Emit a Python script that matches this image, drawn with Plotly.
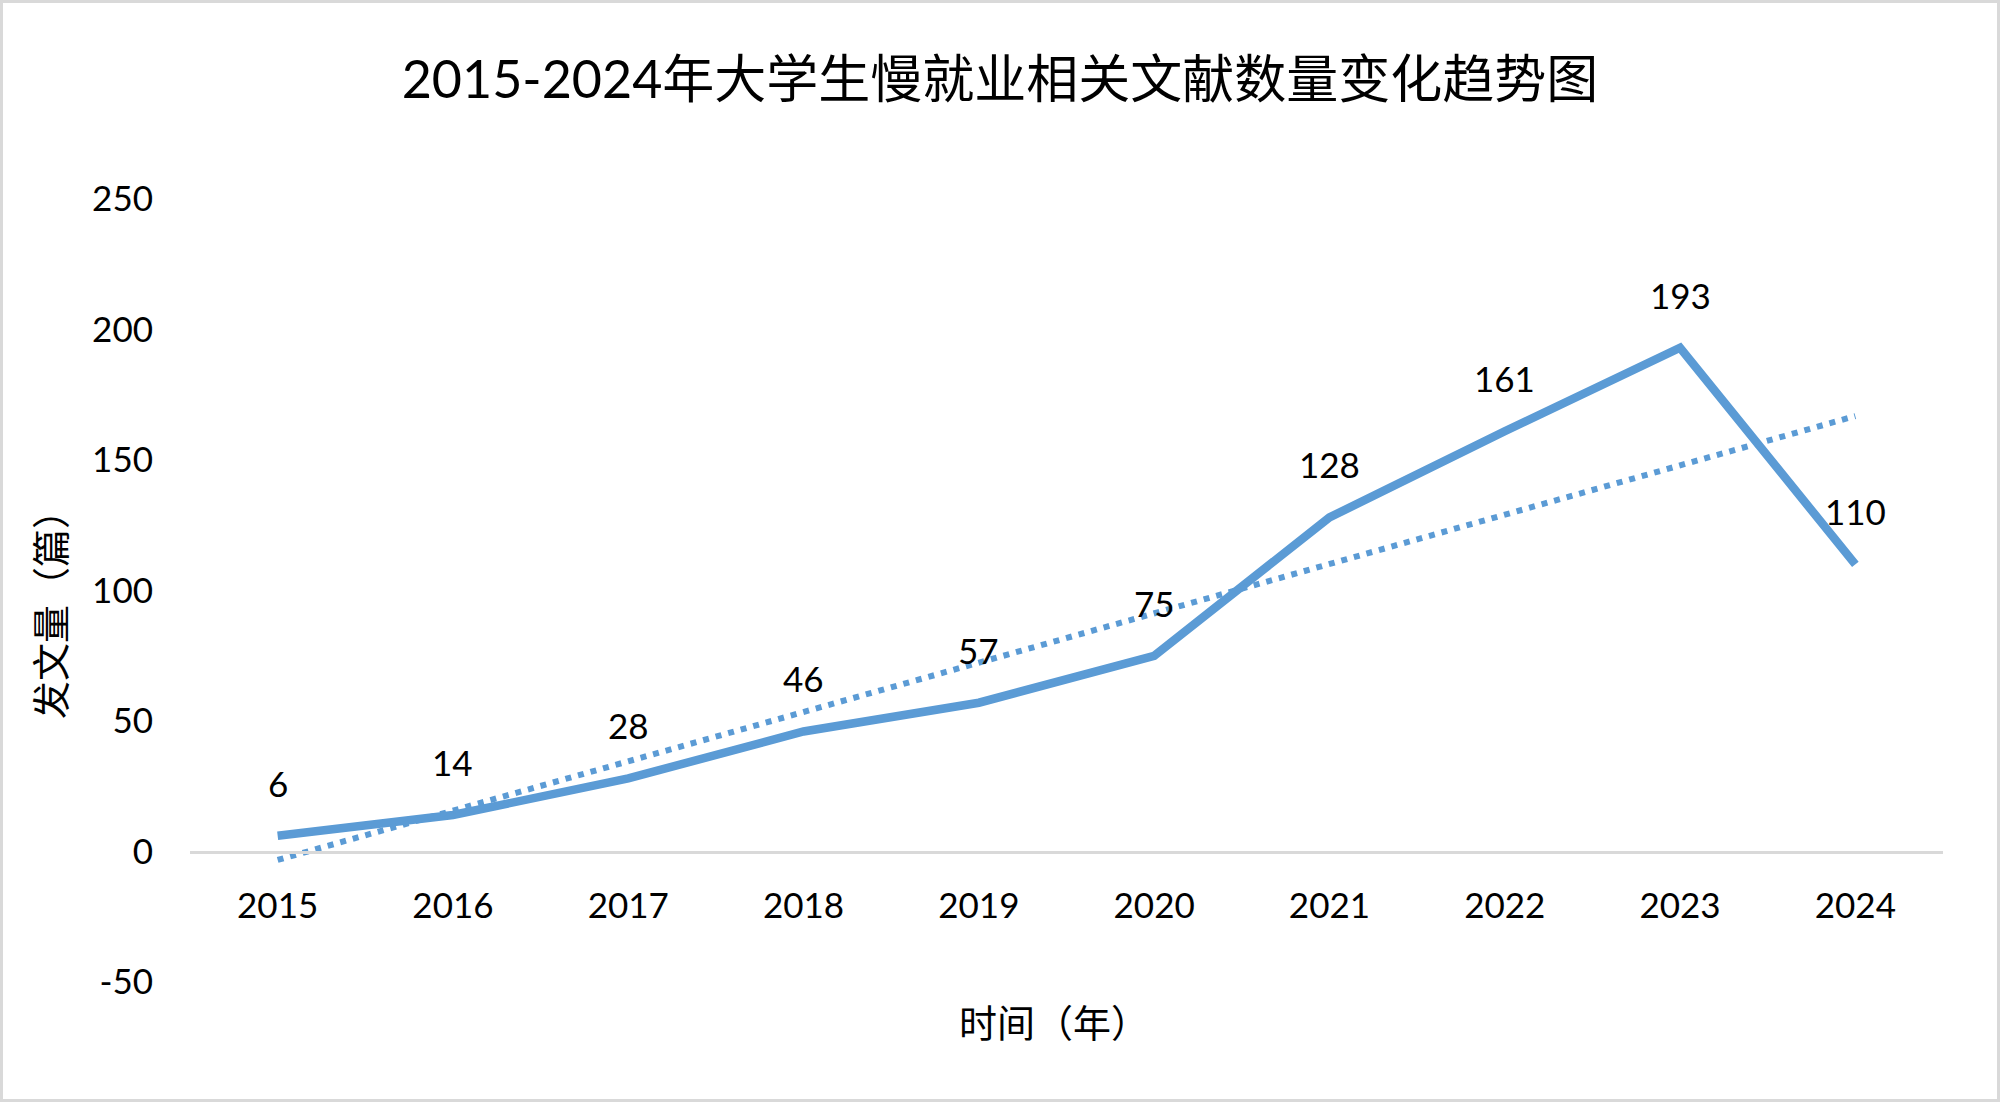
import numpy as np
import plotly.graph_objects as go

years = ["2015", "2016", "2017", "2018", "2019", "2020", "2021", "2022", "2023", "2024"]
counts = [6, 14, 28, 46, 57, 75, 128, 161, 193, 110]
y_ticks = [-50, 0, 50, 100, 150, 200, 250]

title_text = "2015-2024年大学生慢就业相关文献数量变化趋势图"
x_title = "时间（年）"
y_title = "发文量（篇）"

# Linear trendline (least squares over category index), as in Excel
idx = np.arange(len(years))
slope, intercept = np.polyfit(idx, counts, 1)
trend = slope * idx + intercept

W, H = 2000, 1102
ML, MR, MT, MB = 190, 57, 199, 120
PW, PH = W - ML - MR, H - MT - MB

FONT = "Lato, 'Noto Sans CJK SC', sans-serif"
CJK = "'Noto Sans CJK SC', sans-serif"
BLUE = "#5B9BD5"

fig = go.Figure()
fig.add_trace(go.Scatter(
    x=years, y=counts, mode="lines",
    line=dict(color=BLUE, width=8.5),
    showlegend=False, hoverinfo="skip",
))
fig.add_trace(go.Scatter(
    x=years, y=trend, mode="lines",
    line=dict(color=BLUE, width=6, dash="6px,7px"),
    showlegend=False, hoverinfo="skip",
))

annotations = []
for i, v in enumerate(counts):
    annotations.append(dict(
        x=i, y=v, xref="x", yref="y", text=str(v), showarrow=False,
        yshift=53, font=dict(family=FONT, size=35, color="#000000"),
        xanchor="center", yanchor="middle",
    ))

annotations.append(dict(
    x=(1054 - ML) / PW, y=1 - (1020 - MT) / PH, xref="paper", yref="paper",
    text=x_title, showarrow=False, xanchor="center", yanchor="middle",
    font=dict(family=CJK, size=38, color="#000000"),
))
annotations.append(dict(
    x=(48 - ML) / PW, y=1 - (605 - MT) / PH, xref="paper", yref="paper",
    text=y_title, showarrow=False, xanchor="center", yanchor="middle",
    textangle=-90, font=dict(family=CJK, size=38, color="#000000"),
))

fig.update_layout(
    width=W, height=H,
    margin=dict(l=ML, r=MR, t=MT, b=MB, pad=0),
    paper_bgcolor="white", plot_bgcolor="white",
    title=dict(
        text=title_text, x=0.5, xref="container", xanchor="center",
        y=1 - 80 / H, yref="container", yanchor="middle",
        font=dict(family=FONT, size=52, color="#000000"),
    ),
    xaxis=dict(
        type="category", range=[-0.5, 9.5],
        showgrid=False, zeroline=False,
        showline=True, linecolor="#D9D9D9", linewidth=2.5,
        anchor="free", position=50 / 300,
        ticks="", ticklabelstandoff=23,
        tickfont=dict(family=FONT, size=35, color="#000000"),
    ),
    yaxis=dict(
        range=[-50, 250], tickvals=y_ticks, ticktext=[str(t) for t in y_ticks],
        showgrid=False, zeroline=False, showline=False,
        ticks="", ticklabelstandoff=36,
        tickfont=dict(family=FONT, size=35, color="#000000"),
    ),
    annotations=annotations,
    shapes=[dict(
        type="rect", xref="paper", yref="paper",
        x0=(1.5 - ML) / PW, x1=1 + (MR - 1.5) / PW,
        y0=-(MB - 1.5) / PH, y1=1 + (MT - 1.5) / PH,
        line=dict(color="#D9D9D9", width=3), fillcolor="rgba(0,0,0,0)",
        layer="below",
    )],
)

fig.write_html(
    "out.html",
    config={"displayModeBar": False},
    post_script="document.body.style.margin='0';document.body.style.overflow='hidden';",
)
